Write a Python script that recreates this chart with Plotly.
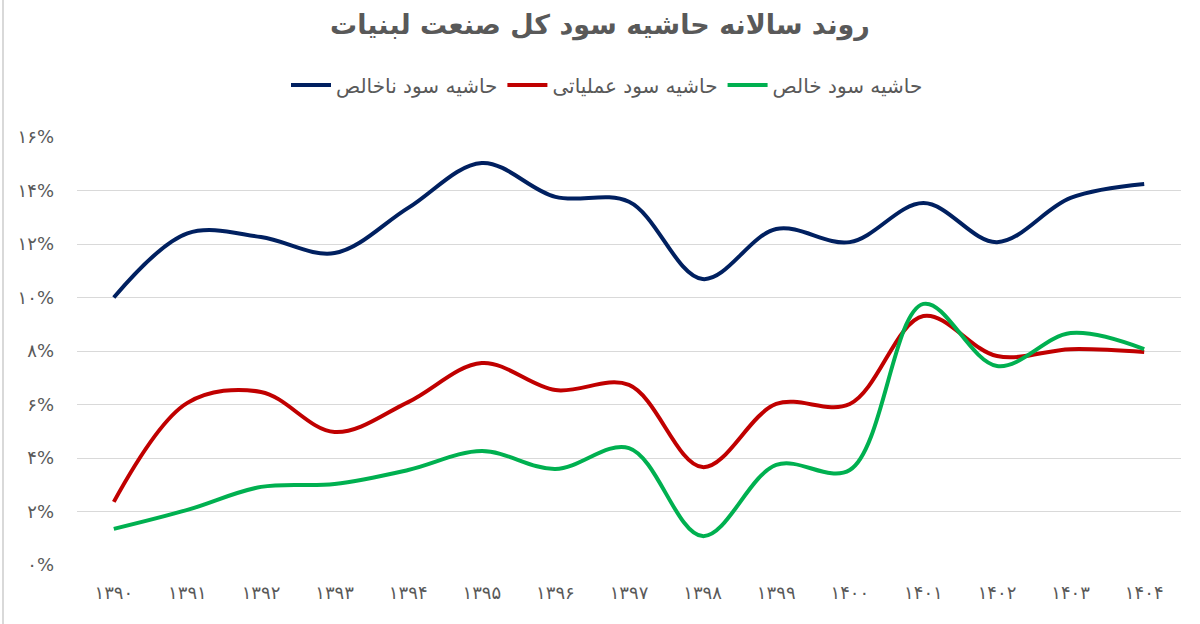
import plotly.graph_objects as go

years = ["۱۳۹۰", "۱۳۹۱", "۱۳۹۲", "۱۳۹۳", "۱۳۹۴", "۱۳۹۵", "۱۳۹۶", "۱۳۹۷",
         "۱۳۹۸", "۱۳۹۹", "۱۴۰۰", "۱۴۰۱", "۱۴۰۲", "۱۴۰۳", "۱۴۰۴"]

gross_margin = [10.0, 12.4, 12.26, 11.66, 13.35, 15.03, 13.76, 13.58,
                10.69, 12.56, 12.07, 13.53, 12.07, 13.72, 14.24]
operating_margin = [2.36, 6.06, 6.47, 4.97, 6.09, 7.55, 6.54, 6.73,
                    3.66, 6.02, 6.02, 9.31, 7.81, 8.07, 7.96]
net_margin = [1.35, 2.06, 2.92, 3.03, 3.55, 4.26, 3.59, 4.37,
              1.08, 3.74, 3.55, 9.76, 7.44, 8.67, 8.07]

series_names = ["حاشیه سود ناخالص", "حاشیه سود عملیاتی", "حاشیه سود خالص"]
series_colors = ["#002060", "#C00000", "#00B050"]

y_tickvals = [0, 2, 4, 6, 8, 10, 12, 14, 16]
y_ticktext = ["۰%", "۲%", "۴%", "۶%", "۸%", "۱۰%", "۱۲%", "۱۴%", "۱۶%"]

title_text = "روند سالانه حاشیه سود کل صنعت لبنیات"

FONT = "DejaVu Sans"
GRAY = "#595959"

fig = go.Figure()
for name, vals, col in zip(series_names, [gross_margin, operating_margin, net_margin], series_colors):
    fig.add_trace(go.Scatter(
        x=list(range(len(years))), y=vals, name=name, mode="lines",
        line=dict(color=col, width=4, shape="spline", smoothing=1.0),
        hoverinfo="skip",
    ))

fig.update_layout(
    width=1200, height=624,
    margin=dict(l=77, r=19, t=137, b=59, autoexpand=False),
    paper_bgcolor="white", plot_bgcolor="white",
    font=dict(family=FONT, color=GRAY, size=16),
    title=dict(text="<b>" + title_text + "</b>", x=0.5, xanchor="center",
               xref="container", y=1 - 25 / 624, yanchor="middle",
               font=dict(size=27, color=GRAY, family=FONT)),
    legend=dict(orientation="h", x=(607 - 77) / 1104, xanchor="center", xref="paper",
                y=1 + (137 - 85) / 428, yanchor="middle", yref="paper",
                font=dict(size=20, color=GRAY, family=FONT),
                itemwidth=40, tracegroupgap=0, traceorder="normal"),
    xaxis=dict(range=[-0.5, len(years) - 0.5], tickvals=list(range(len(years))),
               ticktext=years, showgrid=False, zeroline=False, showline=False,
               ticks="", ticklabelstandoff=15, tickangle=0,
               tickfont=dict(size=18, color=GRAY)),
    yaxis=dict(range=[0, 16], tickvals=y_tickvals, ticktext=y_ticktext,
               showgrid=True, gridcolor="#D9D9D9", gridwidth=1.3,
               zeroline=False, showline=False, ticks="",
               ticklabelstandoff=22, tickfont=dict(size=18, color=GRAY)),
    showlegend=True,
)

# thin light border line at the left edge of the picture
fig.add_shape(type="line", xref="paper", yref="paper",
              x0=(3 - 77) / 1104, x1=(3 - 77) / 1104,
              y0=(565 - 624) / 428, y1=(565 - 0) / 428,
              line=dict(color="#D9D9D9", width=2), layer="below")

fig.write_html("out.html")
